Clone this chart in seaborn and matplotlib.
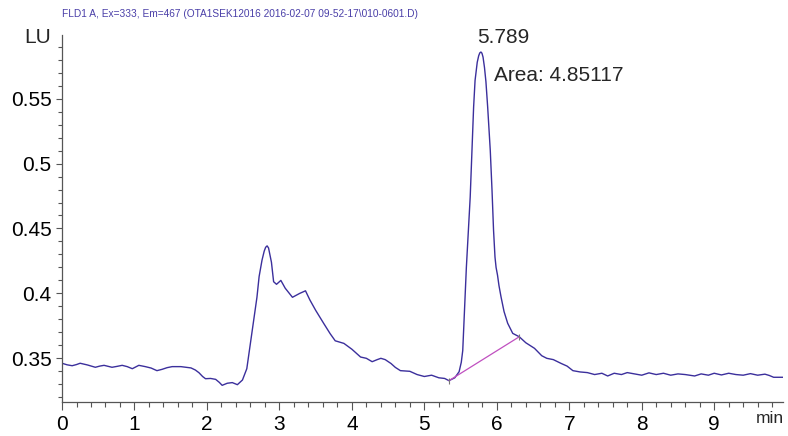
import matplotlib
matplotlib.use("Agg")
import matplotlib.pyplot as plt
from matplotlib.ticker import MultipleLocator
import pandas as pd
import seaborn as sns

# === Data ===
time_min = [
    0.00, 0.07, 0.14, 0.20, 0.25, 0.35, 0.46, 0.52, 0.58, 0.69, 0.76, 0.83,
    0.90, 0.97, 1.06, 1.15, 1.23, 1.31, 1.38, 1.45, 1.52, 1.64, 1.78, 1.84,
    1.89, 1.94, 1.98, 2.05, 2.12, 2.17, 2.21, 2.28, 2.35, 2.42, 2.49, 2.55,
    2.60, 2.65, 2.69, 2.72, 2.76, 2.79, 2.81, 2.83, 2.85, 2.89, 2.92, 2.96,
    3.02, 3.08, 3.18, 3.28, 3.36, 3.42, 3.50, 3.61, 3.70, 3.77, 3.89, 4.00,
    4.12, 4.20, 4.28, 4.35, 4.40, 4.46, 4.54, 4.60, 4.67, 4.80, 4.90, 5.00,
    5.10, 5.20, 5.28, 5.34, 5.42, 5.48, 5.51, 5.53, 5.55, 5.58, 5.633, 5.68,
    5.70, 5.73, 5.75, 5.765, 5.781, 5.795, 5.81, 5.83, 5.85, 5.874, 5.91,
    5.934, 5.955, 5.975, 5.99, 6.01, 6.03, 6.058, 6.10, 6.15, 6.22, 6.31,
    6.40, 6.52, 6.62, 6.69, 6.78, 6.89, 6.97, 7.05, 7.15, 7.25, 7.35, 7.45,
    7.53, 7.62, 7.72, 7.80, 7.90, 8.00, 8.10, 8.20, 8.30, 8.40, 8.50, 8.60,
    8.73, 8.82, 8.92, 9.00, 9.10, 9.20, 9.30, 9.40, 9.50, 9.60, 9.70, 9.76,
    9.82, 9.95,
]
signal_lu = [
    0.3462, 0.3450, 0.3443, 0.3452, 0.3462, 0.3449, 0.3431, 0.3440, 0.3446, 0.3431, 0.3438, 0.3446,
    0.3436, 0.3420, 0.3446, 0.3436, 0.3425, 0.3405, 0.3415, 0.3428, 0.3436, 0.3436, 0.3426, 0.3410,
    0.3389, 0.3360, 0.3343, 0.3345, 0.3338, 0.3315, 0.3292, 0.3308, 0.3313, 0.3297, 0.3333, 0.3420,
    0.3615, 0.3810, 0.3970, 0.4130, 0.4256, 0.4325, 0.4355, 0.4366, 0.4350, 0.4240, 0.4090, 0.4070,
    0.4100, 0.4040, 0.3970, 0.4000, 0.4020, 0.3950, 0.3870, 0.3770, 0.3690, 0.3635, 0.3615, 0.3570,
    0.3510, 0.3500, 0.3474, 0.3490, 0.3500, 0.3490, 0.3460, 0.3430, 0.3405, 0.3400, 0.3375, 0.3360,
    0.3370, 0.3350, 0.3345, 0.3328, 0.3350, 0.3397, 0.3470, 0.3560, 0.3820, 0.4200, 0.4743, 0.5435,
    0.5640, 0.5780, 0.5830, 0.5852, 0.5859, 0.5850, 0.5820, 0.5740, 0.5630, 0.5435, 0.5100,
    0.4794, 0.4487, 0.4280, 0.4200, 0.4140, 0.4060, 0.3974, 0.3860, 0.3770, 0.3692, 0.3666,
    0.3620, 0.3577, 0.3520, 0.3500, 0.3490, 0.3460, 0.3440, 0.3405, 0.3395, 0.3390, 0.3375, 0.3385,
    0.3364, 0.3385, 0.3375, 0.3390, 0.3380, 0.3370, 0.3388, 0.3375, 0.3385, 0.3370, 0.3380, 0.3375,
    0.3364, 0.3380, 0.3370, 0.3385, 0.3372, 0.3385, 0.3375, 0.3370, 0.3382, 0.3370, 0.3378, 0.3368,
    0.3354, 0.3354,
]

# integration baseline of the 5.789 peak
base_x = [5.34, 6.31]
base_y = [0.3328, 0.3666]

peak_rt = "5.789"
peak_area = "Area: 4.85117"
title = "FLD1 A, Ex=333, Em=467 (OTA1SEK12016 2016-02-07 09-52-17\\010-0601.D)"

df = pd.DataFrame({"time": time_min, "signal": signal_lu})

sns.set_style("ticks")
plt.rcParams['font.family'] = ['Liberation Sans', 'DejaVu Sans']

fig = plt.figure(figsize=(7.88, 4.36), dpi=100)
ax = fig.add_axes([0.0787, 0.0787, 0.915, 0.841])

sns.lineplot(data=df, x="time", y="signal", ax=ax, color="#3b2f9c",
             linewidth=1.0, estimator=None, sort=False)
ax.plot(base_x, base_y, color="#c050c0", linewidth=0.9)
ax.plot(base_x, base_y, linestyle="none", marker="|", markersize=4,
        color="#777777", markeredgewidth=0.8)

ax.set_xlim(0, 9.95)
ax.set_ylim(0.3166, 0.599)
ax.xaxis.set_major_locator(MultipleLocator(1))
ax.xaxis.set_minor_locator(MultipleLocator(0.2))
ax.yaxis.set_major_locator(MultipleLocator(0.05))
ax.yaxis.set_minor_locator(MultipleLocator(0.01))
ax.set_yticks([0.35, 0.4, 0.45, 0.5, 0.55])
ax.set_yticklabels(["0.35", "0.4", "0.45", "0.5", "0.55"])

sns.despine(ax=ax)
for side in ("left", "bottom"):
    ax.spines[side].set_color("#555555")
    ax.spines[side].set_linewidth(0.9)
ax.tick_params(which="major", length=6, width=0.8, color="#555555",
               labelsize=15, labelcolor="black")
ax.tick_params(which="minor", length=3.5, width=0.8, color="#555555")
ax.tick_params(axis="y", which="major", length=4)
ax.tick_params(axis="y", which="minor", length=3)
ax.set_xlabel("")
ax.set_ylabel("")

fig.text(0.031, 0.913, "LU", fontsize=15, va="center", ha="left")
fig.text(0.977, 0.022, "min", fontsize=12.5, va="bottom", ha="center")
fig.text(0.0787, 0.967, title, fontsize=7.3, color="#4a3fa8",
         va="center", ha="left")

ax.text(5.73, 0.597, peak_rt, fontsize=15, va="center", ha="left")
ax.text(5.966, 0.568, peak_area, fontsize=15, va="center", ha="left")

fig.savefig("out.png", dpi=100)
